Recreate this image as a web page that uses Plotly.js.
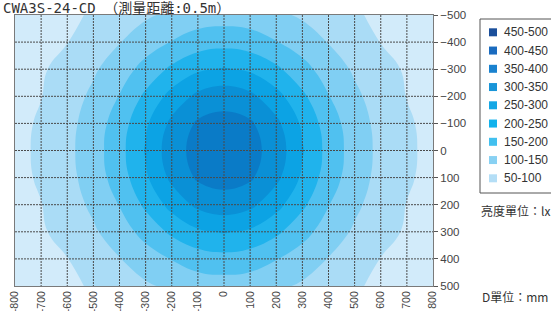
<!DOCTYPE html>
<html><head><meta charset="utf-8">
<script src="https://cdn.plot.ly/plotly-3.0.1.min.js"></script>
<style>html,body{margin:0;padding:0;background:#fff;overflow:hidden}</style>
</head><body><div id="chart" style="width:551px;height:311px"></div>
<script>
// distances (mm)
const xVals = [-800,-700,-600,-500,-400,-300,-200,-100,0,100,200,300,400,500,600,700,800];
const yVals = [-500,-400,-300,-200,-100,0,100,200,300,400,500];
// illuminance (lx) read at grid intersections, rows = yVals, cols = xVals
const illuminance = [
  [26,35,43,54,75,93,110,123,127,123,110,93,75,54,43,35,26],
  [31,41,49,75,98,127,152,175,183,175,152,127,98,75,49,41,31],
  [35,45,65,93,127,167,210,242,254,242,210,167,127,93,65,45,35],
  [39,49,77,110,152,210,267,312,329,312,267,210,152,110,77,49,39],
  [41,54,85,123,175,242,312,357,367,357,312,242,175,123,85,54,41],
  [41,56,88,127,183,254,329,367,390,367,329,254,183,127,88,56,41],
  [41,54,85,123,175,242,312,357,367,357,312,242,175,123,85,54,41],
  [39,49,77,110,152,210,267,312,329,312,267,210,152,110,77,49,39],
  [35,45,65,93,127,167,210,242,254,242,210,167,127,93,65,45,35],
  [31,41,49,75,98,127,152,175,183,175,152,127,98,75,49,41,31],
  [26,35,43,54,75,93,110,123,127,123,110,93,75,54,43,35,26]
];
const xTickVals = [-800,-700,-600,-500,-400,-300,-200,-100,0,100,200,300,400,500,600,700,800];
const xTickText = ['-800','-700','-600','-500','-400','-300','-200','-100','0','100','200','300','400','500','600','700','800'];
const yTickVals = [-500,-400,-300,-200,-100,0,100,200,300,400,500];
const yTickText = ['\u2212500','\u2212400','\u2212300','\u2212200','\u2212100','0','100','200','300','400','500'];
const legendLabels = ['450-500','400-450','350-400','300-350','250-300','200-250','150-200','100-150','50-100'];
const legendColors = ['#1b4f9b','#1a6bbf','#1a82cf','#1995d8','#14a7e5','#12b2ec','#42c0ef','#88d1f3','#b4def6'];
// fill colours of bands: <50, 50-100, ..., >=350
const bandColors = ['#d2ebfa','#aadcf6','#80cff3','#50c1f0','#20b3ec','#0ca3e4','#0a90d6','#0a7bc7'];
const titleText = 'CWA3S-24-CD （測量距離:0.5m）';
const unitLux = '亮度單位：lx';
const unitMm = 'D單位：mm';

const W = 551, H = 311, L = 15, R = 118, T = 15, B = 25;
const pw = W - L - R, ph = H - T - B;
const px = v => (v - L) / pw;
const py = v => (H - B - v) / ph;

const colorscale = bandColors.map((c, i) => [i / (bandColors.length - 1), c]);

const trace = {
  type: 'contour', x: xVals, y: yVals, z: illuminance,
  contours: {start: 50, end: 350, size: 50, coloring: 'fill', showlines: false},
  line: {width: 0, smoothing: 1.3},
  colorscale: colorscale, showscale: false, hoverinfo: 'skip'
};

const shapes = [];
xTickVals.slice(1, -1).forEach(v => shapes.push({type: 'line', xref: 'x', yref: 'y', x0: v, x1: v, y0: -500, y1: 500, layer: 'above', line: {color: '#4a4a4a', width: 1, dash: '2px,1px'}}));
yTickVals.slice(1, -1).forEach(v => shapes.push({type: 'line', xref: 'x', yref: 'y', x0: -800, x1: 800, y0: v, y1: v, layer: 'above', line: {color: '#4a4a4a', width: 1, dash: '2px,1px'}}));
// legend box
shapes.push({type: 'rect', xref: 'paper', yref: 'paper', x0: px(480), x1: px(565), y0: py(19), y1: py(193), line: {color: '#555', width: 1}, fillcolor: 'rgba(0,0,0,0)'});
const annotations = [];
legendLabels.forEach((lab, i) => {
  const cy = 32.3 + i * 18.25;
  shapes.push({type: 'rect', xref: 'paper', yref: 'paper', x0: px(489), x1: px(497), y0: py(cy - 4), y1: py(cy + 4), line: {width: 0}, fillcolor: legendColors[i]});
  annotations.push({xref: 'paper', yref: 'paper', x: px(502), y: py(cy), xanchor: 'left', yanchor: 'middle', showarrow: false, text: lab, font: {family: 'Liberation Sans, Arial, sans-serif', size: 12, color: '#333'}});
});
annotations.push({xref: 'paper', yref: 'paper', x: px(479), y: py(210), xanchor: 'left', yanchor: 'middle', showarrow: false, text: unitLux, font: {family: 'Noto Sans CJK TC, sans-serif', size: 12, color: '#333'}});
annotations.push({xref: 'paper', yref: 'paper', x: px(480), y: py(296), xanchor: 'left', yanchor: 'middle', showarrow: false, text: unitMm, font: {family: 'Noto Sans CJK TC, sans-serif', size: 12, color: '#333'}});
annotations.push({xref: 'paper', yref: 'paper', x: px(1), y: py(8.5), xanchor: 'left', yanchor: 'middle', showarrow: false, text: titleText, font: {family: 'DejaVu Sans Mono, Noto Sans CJK TC, monospace', size: 14, color: '#333'}});

const layout = {
  width: W, height: H, margin: {l: L, r: R, t: T, b: B},
  paper_bgcolor: '#fff', plot_bgcolor: '#fff', showlegend: false,
  xaxis: {range: [-800, 800], tickvals: xTickVals, ticktext: xTickText, tickangle: -90,
    showgrid: false, zeroline: false, showline: true, mirror: true, linecolor: '#7a7a7a', linewidth: 1,
    ticks: '', tickfont: {family: 'Liberation Sans, Arial, sans-serif', size: 10.5, color: '#444'}, layer: 'above traces', fixedrange: true},
  yaxis: {range: [500, -500], tickvals: yTickVals, ticktext: yTickText, side: 'right',
    showgrid: false, zeroline: false, showline: true, mirror: true, linecolor: '#7a7a7a', linewidth: 1,
    ticks: 'outside', ticklen: 4, tickcolor: '#555', tickfont: {family: 'Liberation Sans, Arial, sans-serif', size: 11.5, color: '#444'}, layer: 'above traces', fixedrange: true},
  shapes: shapes, annotations: annotations
};
Plotly.newPlot('chart', [trace], layout, {staticPlot: true, displayModeBar: false});
</script></body></html>
